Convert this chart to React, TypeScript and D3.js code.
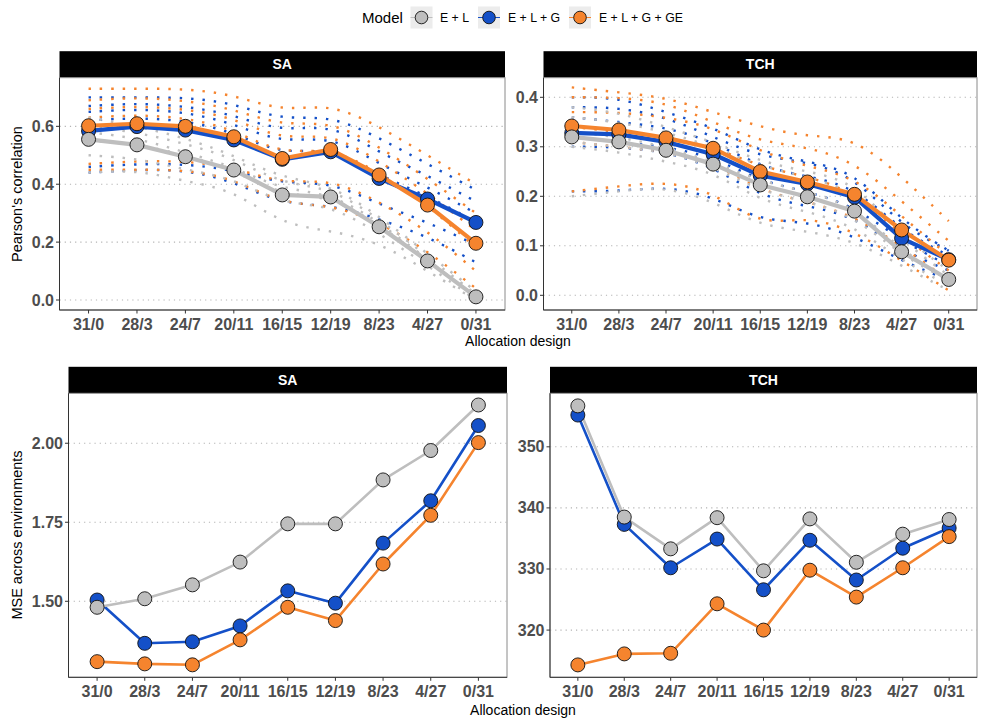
import React from "react";
import * as d3 from "d3";

const CATS = ["31/0", "28/3", "24/7", "20/11", "16/15", "12/19", "8/23", "4/27", "0/31"];
const MODELS = ["E + L", "E + L + G", "E + L + G + GE"];
const COLORS = ["#bebebe", "#1450c8", "#f5842e"];

// Pearson's correlation (mean across environments)
const SA_COR_EL = [0.555, 0.536, 0.495, 0.449, 0.363, 0.356, 0.253, 0.135, 0.011];
const SA_COR_ELG = [0.584, 0.599, 0.587, 0.553, 0.486, 0.512, 0.42, 0.349, 0.268];
const SA_COR_ELGGE = [0.602, 0.609, 0.6, 0.564, 0.489, 0.52, 0.432, 0.328, 0.196];
const TCH_COR_EL = [0.32, 0.31, 0.293, 0.265, 0.223, 0.199, 0.17, 0.088, 0.032];
const TCH_COR_ELG = [0.328, 0.325, 0.31, 0.285, 0.242, 0.225, 0.198, 0.115, 0.072];
const TCH_COR_ELGGE = [0.342, 0.334, 0.318, 0.297, 0.25, 0.229, 0.204, 0.132, 0.071];

// Per-environment correlations (dotted lines)
const SA_ENV_EL = [
  [0.63, 0.6, 0.56, 0.5, 0.42, 0.4, 0.29, 0.16, 0.03],
  [0.6, 0.58, 0.54, 0.49, 0.4, 0.39, 0.28, 0.15, 0.02],
  [0.58, 0.56, 0.51, 0.46, 0.38, 0.37, 0.27, 0.14, 0.01],
  [0.55, 0.54, 0.5, 0.45, 0.36, 0.36, 0.26, 0.14, 0.01],
  [0.5, 0.49, 0.45, 0.42, 0.33, 0.33, 0.23, 0.12, 0.0],
  [0.44, 0.45, 0.41, 0.38, 0.26, 0.24, 0.2, 0.1, 0.0],
];
const SA_ENV_ELG = [
  [0.7, 0.7, 0.7, 0.68, 0.62, 0.64, 0.56, 0.47, 0.38],
  [0.67, 0.68, 0.67, 0.64, 0.58, 0.61, 0.51, 0.43, 0.34],
  [0.65, 0.66, 0.65, 0.61, 0.54, 0.57, 0.47, 0.39, 0.3],
  [0.62, 0.63, 0.62, 0.58, 0.5, 0.53, 0.43, 0.36, 0.27],
  [0.46, 0.47, 0.47, 0.45, 0.4, 0.41, 0.33, 0.27, 0.19],
  [0.44, 0.45, 0.45, 0.41, 0.33, 0.33, 0.28, 0.22, 0.13],
];
const SA_ENV_ELGGE = [
  [0.73, 0.73, 0.73, 0.71, 0.65, 0.68, 0.6, 0.5, 0.4],
  [0.69, 0.7, 0.69, 0.66, 0.6, 0.62, 0.53, 0.42, 0.3],
  [0.66, 0.67, 0.66, 0.63, 0.55, 0.58, 0.48, 0.37, 0.24],
  [0.63, 0.64, 0.63, 0.59, 0.5, 0.53, 0.44, 0.33, 0.18],
  [0.47, 0.48, 0.48, 0.46, 0.4, 0.42, 0.34, 0.24, 0.1],
  [0.45, 0.45, 0.45, 0.42, 0.33, 0.33, 0.27, 0.17, 0.04],
];
const TCH_ENV_EL = [
  [0.38, 0.37, 0.34, 0.31, 0.27, 0.25, 0.23, 0.12, 0.05],
  [0.36, 0.35, 0.33, 0.3, 0.26, 0.24, 0.21, 0.11, 0.04],
  [0.33, 0.32, 0.3, 0.27, 0.23, 0.21, 0.18, 0.09, 0.03],
  [0.31, 0.3, 0.29, 0.26, 0.21, 0.19, 0.16, 0.08, 0.03],
  [0.3, 0.29, 0.27, 0.25, 0.19, 0.17, 0.14, 0.07, 0.02],
  [0.2, 0.21, 0.22, 0.19, 0.14, 0.13, 0.11, 0.06, 0.01],
];
const TCH_ENV_ELG = [
  [0.4, 0.4, 0.37, 0.34, 0.29, 0.27, 0.25, 0.15, 0.09],
  [0.38, 0.38, 0.36, 0.32, 0.28, 0.27, 0.24, 0.14, 0.09],
  [0.36, 0.35, 0.34, 0.31, 0.26, 0.24, 0.22, 0.13, 0.08],
  [0.32, 0.31, 0.3, 0.28, 0.23, 0.21, 0.18, 0.11, 0.06],
  [0.3, 0.3, 0.29, 0.26, 0.2, 0.18, 0.16, 0.09, 0.05],
  [0.21, 0.21, 0.22, 0.2, 0.15, 0.15, 0.12, 0.07, 0.03],
];
const TCH_ENV_ELGGE = [
  [0.42, 0.41, 0.4, 0.37, 0.34, 0.32, 0.32, 0.24, 0.15],
  [0.4, 0.4, 0.39, 0.35, 0.31, 0.3, 0.27, 0.19, 0.11],
  [0.37, 0.37, 0.36, 0.34, 0.29, 0.26, 0.24, 0.16, 0.08],
  [0.34, 0.33, 0.32, 0.3, 0.26, 0.24, 0.21, 0.12, 0.05],
  [0.31, 0.3, 0.29, 0.27, 0.21, 0.19, 0.16, 0.1, 0.03],
  [0.21, 0.22, 0.23, 0.21, 0.14, 0.16, 0.13, 0.07, 0.01],
];

// MSE across environments
const SA_MSE_EL = [1.481, 1.508, 1.552, 1.624, 1.745, 1.745, 1.884, 1.977, 2.121];
const SA_MSE_ELG = [1.504, 1.367, 1.372, 1.422, 1.533, 1.494, 1.684, 1.818, 2.056];
const SA_MSE_ELGGE = [1.309, 1.302, 1.299, 1.378, 1.481, 1.439, 1.618, 1.772, 2.002];
const TCH_MSE_EL = [356.7, 338.5, 333.3, 338.4, 329.7, 338.2, 331.1, 335.7, 338.1];
const TCH_MSE_ELG = [355.2, 337.3, 330.2, 334.9, 326.6, 334.7, 328.2, 333.4, 336.7];
const TCH_MSE_ELGGE = [314.3, 316.1, 316.2, 324.3, 320.0, 329.8, 325.4, 330.2, 335.3];

const TICKS_SA_COR = [0, 0.2, 0.4, 0.6];
const TICKS_TCH_COR = [0, 0.1, 0.2, 0.3, 0.4];
const TICKS_SA_MSE = [1.5, 1.75, 2.0];
const TICKS_TCH_MSE = [320, 330, 340, 350];

type Panel = {
  title: string;
  x0: number; x1: number; yTop: number; yBot: number;
  domain: [number, number];
  ticks: number[]; fmt: string;
  means: number[][];
  envs?: number[][][];
  lw: number;
};

const STRIP_H = 26.5;

const panels: Panel[] = [
  { title: "SA", x0: 59.5, x1: 505, yTop: 77.7, yBot: 310, domain: [-0.0345, 0.768], ticks: TICKS_SA_COR, fmt: ".1f",
    means: [SA_COR_EL, SA_COR_ELG, SA_COR_ELGGE], envs: [SA_ENV_EL, SA_ENV_ELG, SA_ENV_ELGGE], lw: 4.2 },
  { title: "TCH", x0: 543.5, x1: 977, yTop: 77.7, yBot: 310, domain: [-0.0297, 0.4396], ticks: TICKS_TCH_COR, fmt: ".1f",
    means: [TCH_COR_EL, TCH_COR_ELG, TCH_COR_ELGGE], envs: [TCH_ENV_EL, TCH_ENV_ELG, TCH_ENV_ELGGE], lw: 4.2 },
  { title: "SA", x0: 68.5, x1: 507, yTop: 393.3, yBot: 677.3, domain: [1.2595, 2.158], ticks: TICKS_SA_MSE, fmt: ".2f",
    means: [SA_MSE_EL, SA_MSE_ELG, SA_MSE_ELGGE], lw: 2.6 },
  { title: "TCH", x0: 550, x1: 977, yTop: 393.3, yBot: 677.3, domain: [312.27, 358.76], ticks: TICKS_TCH_MSE, fmt: "d",
    means: [TCH_MSE_EL, TCH_MSE_ELG, TCH_MSE_ELGGE], lw: 2.6 },
];

const DRAW_ORDER = [1, 2, 0];
const FONT = "Liberation Sans, Arial, Helvetica, sans-serif";

function PanelView({ p }: { p: Panel }) {
  const x = d3.scalePoint<string>().domain(CATS).range([p.x0, p.x1]).padding(0.6);
  const y = d3.scaleLinear().domain(p.domain).range([p.yBot, p.yTop]);
  const fmt = d3.format(p.fmt);
  const line = d3.line<number>().x((_, i) => x(CATS[i]) as number).y((v) => y(v));
  const smooth = d3.line<number>().x((_, i) => x(CATS[i]) as number).y((v) => y(v)).curve(d3.curveBasis);
  return (
    <g>
      <rect x={p.x0} y={p.yTop - STRIP_H} width={p.x1 - p.x0} height={STRIP_H} fill="#000" />
      <text x={(p.x0 + p.x1) / 2} y={p.yTop - STRIP_H / 2 + 5} textAnchor="middle" fill="#fff"
        fontFamily={FONT} fontWeight="bold" fontSize={14}>{p.title}</text>
      <rect x={p.x0} y={p.yTop} width={p.x1 - p.x0} height={p.yBot - p.yTop} fill="#fff" stroke="#8a8a8a" strokeWidth={1} />
      {p.ticks.map((t) => (
        <line key={"g" + t} x1={p.x0} x2={p.x1} y1={y(t)} y2={y(t)} stroke="#b3b3b3" strokeWidth={1.1} strokeDasharray="1.2 4" />
      ))}
      {p.envs && DRAW_ORDER.map((m) =>
        p.envs![m].map((env, k) => (
          <path key={"e" + m + "-" + k} d={smooth(env) as string} fill="none" stroke={COLORS[m]} strokeWidth={2.4}
            strokeDasharray="2.4 9" />
        ))
      )}
      {DRAW_ORDER.map((m) => (
        <path key={"l" + m} d={line(p.means[m]) as string} fill="none" stroke={COLORS[m]} strokeWidth={p.lw} strokeLinejoin="round" />
      ))}
      {DRAW_ORDER.map((m) =>
        p.means[m].map((v, i) => (
          <circle key={"c" + m + "-" + i} cx={x(CATS[i]) as number} cy={y(v)} r={7} fill={COLORS[m]} stroke="#111" strokeWidth={0.9} />
        ))
      )}
      <line x1={p.x0} x2={p.x0} y1={p.yTop} y2={p.yBot} stroke="#333" strokeWidth={1} />
      <line x1={p.x0} x2={p.x1} y1={p.yBot} y2={p.yBot} stroke="#333" strokeWidth={1} />
      {p.ticks.map((t) => (
        <g key={"yt" + t}>
          <line x1={p.x0 - 3.5} x2={p.x0} y1={y(t)} y2={y(t)} stroke="#333" />
          <text x={p.x0 - 5.5} y={y(t) + 5.5} textAnchor="end" fill="#4d4d4d" fontFamily={FONT} fontWeight="bold" fontSize={16}>{fmt(t)}</text>
        </g>
      ))}
      {CATS.map((c) => (
        <g key={"xt" + c}>
          <line x1={x(c) as number} x2={x(c) as number} y1={p.yBot} y2={p.yBot + 3.5} stroke="#333" />
          <text x={x(c) as number} y={p.yBot + 20} textAnchor="middle" fill="#4d4d4d" fontFamily={FONT} fontWeight="bold" fontSize={16}>{c}</text>
        </g>
      ))}
    </g>
  );
}

export default function App() {
  const legendKeys = [421.5, 489, 580];
  const legendText = [440, 508, 599];
  return (
    <svg width={981} height={720} style={{ position: "absolute", left: 0, top: 0, background: "#fff" }}>
      <rect width={981} height={720} fill="#fff" />
      {/* legend */}
      <text x={362} y={22.5} fontFamily={FONT} fontSize={15} fill="#000">Model</text>
      {MODELS.map((m, i) => (
        <g key={m}>
          <rect x={legendKeys[i] - 11} y={6.5} width={22} height={22} fill="#ececec" />
          <line x1={legendKeys[i] - 11} x2={legendKeys[i] + 11} y1={17.5} y2={17.5} stroke={COLORS[i]} strokeWidth={1} />
          <circle cx={legendKeys[i]} cy={17.5} r={6.3} fill={COLORS[i]} stroke="#111" strokeWidth={0.9} />
          <text x={legendText[i]} y={22} fontFamily={FONT} fontSize={12.3} fill="#000">{m}</text>
        </g>
      ))}
      {panels.map((p, i) => <PanelView key={i} p={p} />)}
      {/* axis titles */}
      <text x={518} y={346} textAnchor="middle" fontFamily={FONT} fontSize={14} fill="#000">Allocation design</text>
      <text x={523} y={715} textAnchor="middle" fontFamily={FONT} fontSize={14} fill="#000">Allocation design</text>
      <text transform="translate(22,194) rotate(-90)" textAnchor="middle" fontFamily={FONT} fontSize={14.5} fill="#000">Pearson's correlation</text>
      <text transform="translate(22,535) rotate(-90)" textAnchor="middle" fontFamily={FONT} fontSize={14.5} fill="#000">MSE across environments</text>
    </svg>
  );
}
